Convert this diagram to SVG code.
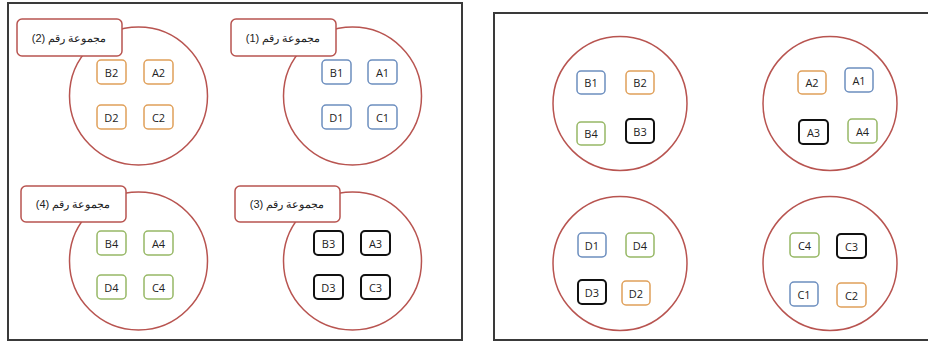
<svg xmlns="http://www.w3.org/2000/svg" width="928" height="341" viewBox="0 0 928 341">
<style>
.frame{fill:#fff;stroke:#3a3a3a;stroke-width:2}
.grp{fill:#fff;stroke:#b85450;stroke-width:1.5}
.lbl{fill:#fff;stroke:#b85450;stroke-width:1.5}
.n{fill:#fff;stroke-width:1.5}
.o{stroke:#e0a05a}
.b{stroke:#6c8ebf}
.g{stroke:#97b866}
.k{stroke:#111;stroke-width:2}
.t{font-family:"Open Sans","Liberation Sans",sans-serif;font-size:11px;fill:#222;text-anchor:middle;dominant-baseline:central}
.at{font-family:"Liberation Sans","Noto Sans",sans-serif;font-size:11px;fill:#222;text-anchor:middle;dominant-baseline:central}
</style>
<rect x="0" y="0" width="928" height="341" fill="#fff"/>
<rect class="frame" x="8" y="3" width="454" height="337"/>
<rect class="frame" x="494" y="13" width="440" height="327"/>

<g id="group2">
<circle class="grp" cx="138.5" cy="96" r="69"/>
<rect class="lbl" x="17" y="19" width="105" height="37" rx="5"/>
<text class="at" x="69" y="38" direction="rtl">مجموعة رقم (2)</text>
</g>
<g id="group1">
<circle class="grp" cx="352.5" cy="96" r="69"/>
<rect class="lbl" x="231" y="19" width="105" height="37" rx="5"/>
<text class="at" x="283" y="38" direction="rtl">مجموعة رقم (1)</text>
</g>
<g id="group4">
<circle class="grp" cx="138.5" cy="261" r="69"/>
<rect class="lbl" x="21" y="186" width="105" height="36" rx="5"/>
<text class="at" x="73" y="204" direction="rtl">مجموعة رقم (4)</text>
</g>
<g id="group3">
<circle class="grp" cx="352.5" cy="261" r="69"/>
<rect class="lbl" x="235" y="186" width="105" height="36" rx="5"/>
<text class="at" x="287" y="204" direction="rtl">مجموعة رقم (3)</text>
</g>

<g id="B2"><rect class="n o" x="97" y="60" width="29" height="24" rx="4"/><text class="t" x="111.5" y="72">B2</text></g>
<g id="A2"><rect class="n o" x="144" y="60" width="29" height="24" rx="4"/><text class="t" x="158.5" y="72">A2</text></g>
<g id="D2"><rect class="n o" x="97" y="105" width="29" height="24" rx="4"/><text class="t" x="111.5" y="117">D2</text></g>
<g id="C2"><rect class="n o" x="144" y="105" width="29" height="24" rx="4"/><text class="t" x="158.5" y="117">C2</text></g>

<g id="B1"><rect class="n b" x="322" y="60" width="29" height="24" rx="4"/><text class="t" x="336.5" y="72">B1</text></g>
<g id="A1"><rect class="n b" x="368" y="60" width="29" height="24" rx="4"/><text class="t" x="382.5" y="72">A1</text></g>
<g id="D1"><rect class="n b" x="322" y="105" width="29" height="24" rx="4"/><text class="t" x="336.5" y="117">D1</text></g>
<g id="C1"><rect class="n b" x="368" y="105" width="29" height="24" rx="4"/><text class="t" x="382.5" y="117">C1</text></g>

<g id="B4"><rect class="n g" x="97" y="231" width="29" height="24" rx="4"/><text class="t" x="111.5" y="243">B4</text></g>
<g id="A4"><rect class="n g" x="144" y="231" width="29" height="24" rx="4"/><text class="t" x="158.5" y="243">A4</text></g>
<g id="D4"><rect class="n g" x="97" y="275" width="29" height="24" rx="4"/><text class="t" x="111.5" y="287">D4</text></g>
<g id="C4"><rect class="n g" x="144" y="275" width="29" height="24" rx="4"/><text class="t" x="158.5" y="287">C4</text></g>

<g id="B3"><rect class="n k" x="314" y="231" width="29" height="24" rx="4"/><text class="t" x="328.5" y="243">B3</text></g>
<g id="A3"><rect class="n k" x="361" y="231" width="29" height="24" rx="4"/><text class="t" x="375.5" y="243">A3</text></g>
<g id="D3"><rect class="n k" x="314" y="275" width="29" height="24" rx="4"/><text class="t" x="328.5" y="287">D3</text></g>
<g id="C3"><rect class="n k" x="361" y="275" width="29" height="24" rx="4"/><text class="t" x="375.5" y="287">C3</text></g>

<g id="mixB"><circle class="grp" cx="620" cy="103.5" r="67"/></g>
<g id="mixA"><circle class="grp" cx="830" cy="103.5" r="67"/></g>
<g id="mixD"><circle class="grp" cx="620" cy="263.5" r="67"/></g>
<g id="mixC"><circle class="grp" cx="830" cy="263.5" r="67"/></g>

<g id="rB1"><rect class="n b" x="577" y="71" width="28" height="23" rx="4"/><text class="t" x="591" y="82.5">B1</text></g>
<g id="rB2"><rect class="n o" x="626" y="71" width="28" height="23" rx="4"/><text class="t" x="640" y="82.5">B2</text></g>
<g id="rB4"><rect class="n g" x="577" y="122" width="28" height="23" rx="4"/><text class="t" x="591" y="133.5">B4</text></g>
<g id="rB3"><rect class="n k" x="626" y="119" width="28" height="24" rx="4"/><text class="t" x="640" y="131">B3</text></g>

<g id="rA2"><rect class="n o" x="798" y="71" width="28" height="23" rx="4"/><text class="t" x="812" y="82.5">A2</text></g>
<g id="rA1"><rect class="n b" x="845" y="68" width="28" height="24" rx="4"/><text class="t" x="859" y="80">A1</text></g>
<g id="rA3"><rect class="n k" x="799" y="120" width="29" height="24" rx="4"/><text class="t" x="813.5" y="132">A3</text></g>
<g id="rA4"><rect class="n g" x="848" y="119" width="29" height="24" rx="4"/><text class="t" x="862.5" y="131">A4</text></g>

<g id="rD1"><rect class="n b" x="578" y="233" width="28" height="24" rx="4"/><text class="t" x="592" y="245">D1</text></g>
<g id="rD4"><rect class="n g" x="626" y="233" width="28" height="24" rx="4"/><text class="t" x="640" y="245">D4</text></g>
<g id="rD3"><rect class="n k" x="578" y="280" width="28" height="24" rx="4"/><text class="t" x="592" y="292">D3</text></g>
<g id="rD2"><rect class="n o" x="622" y="281" width="28" height="24" rx="4"/><text class="t" x="636" y="293">D2</text></g>

<g id="rC4"><rect class="n g" x="790" y="233" width="29" height="24" rx="4"/><text class="t" x="804.5" y="245">C4</text></g>
<g id="rC3"><rect class="n k" x="837" y="234" width="29" height="24" rx="4"/><text class="t" x="851.5" y="246">C3</text></g>
<g id="rC1"><rect class="n b" x="790" y="282" width="28" height="24" rx="4"/><text class="t" x="804" y="294">C1</text></g>
<g id="rC2"><rect class="n o" x="837" y="283" width="29" height="24" rx="4"/><text class="t" x="851.5" y="295">C2</text></g>

<g id="connectors"></g>
</svg>
